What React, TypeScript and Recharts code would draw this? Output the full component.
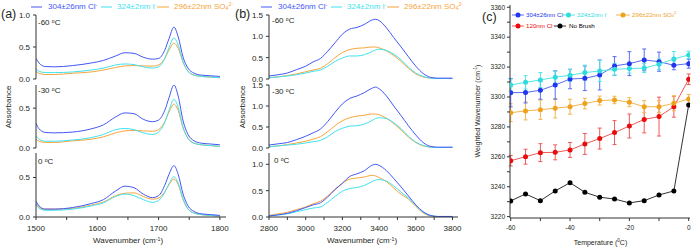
import React from 'react';
import { LineChart, Line, XAxis, YAxis, ErrorBar } from 'recharts';

const FONT = '"Liberation Sans", Arial, Helvetica, sans-serif';
const INK = '#231f20';
const AXIS = '#333333';

const COL_CL = '#4257f6';
const COL_I = '#40e2ee';
const COL_SO4 = '#f7a53c';

// ---------- Panel (a): 1500-1800 cm-1 ----------
const wavenumbersA = [1500, 1505, 1515, 1530, 1560, 1590, 1610, 1630, 1645, 1660, 1675, 1690, 1700, 1710, 1717, 1725, 1732, 1740, 1748, 1758, 1770, 1785, 1800];
const aClM60 = [0.32, 0.25, 0.195, 0.19, 0.21, 0.25, 0.29, 0.36, 0.41, 0.40, 0.34, 0.31, 0.32, 0.45, 0.63, 0.81, 0.66, 0.34, 0.17, 0.09, 0.06, 0.05, 0.04];
const aIM60 = [0.16, 0.12, 0.10, 0.10, 0.11, 0.14, 0.17, 0.22, 0.235, 0.225, 0.19, 0.17, 0.19, 0.32, 0.49, 0.64, 0.53, 0.27, 0.12, 0.06, 0.04, 0.03, 0.02];
const aSO4M60 = [0.12, 0.09, 0.07, 0.07, 0.09, 0.11, 0.14, 0.18, 0.205, 0.21, 0.205, 0.20, 0.22, 0.32, 0.45, 0.56, 0.48, 0.26, 0.12, 0.06, 0.04, 0.03, 0.02];
const aClM30 = [0.31, 0.24, 0.195, 0.19, 0.20, 0.24, 0.29, 0.39, 0.44, 0.43, 0.36, 0.33, 0.35, 0.47, 0.63, 0.79, 0.65, 0.34, 0.17, 0.09, 0.06, 0.05, 0.04];
const aIM30 = [0.15, 0.11, 0.085, 0.085, 0.10, 0.13, 0.17, 0.23, 0.245, 0.23, 0.19, 0.17, 0.20, 0.32, 0.47, 0.61, 0.51, 0.26, 0.12, 0.06, 0.04, 0.03, 0.02];
const aSO4M30 = [0.11, 0.085, 0.07, 0.07, 0.09, 0.11, 0.14, 0.19, 0.215, 0.22, 0.215, 0.21, 0.23, 0.33, 0.45, 0.55, 0.47, 0.25, 0.12, 0.06, 0.04, 0.03, 0.02];
const aCl0 = [0.20, 0.14, 0.10, 0.10, 0.12, 0.17, 0.22, 0.33, 0.39, 0.37, 0.29, 0.245, 0.27, 0.40, 0.54, 0.65, 0.54, 0.29, 0.14, 0.07, 0.04, 0.03, 0.02];
const aI0 = [0.16, 0.11, 0.085, 0.085, 0.10, 0.14, 0.18, 0.26, 0.29, 0.27, 0.22, 0.185, 0.21, 0.31, 0.42, 0.51, 0.43, 0.23, 0.10, 0.05, 0.03, 0.02, 0.01];
const aSO40 = [0.17, 0.12, 0.10, 0.10, 0.11, 0.15, 0.19, 0.27, 0.30, 0.305, 0.26, 0.225, 0.24, 0.32, 0.41, 0.48, 0.41, 0.22, 0.10, 0.05, 0.03, 0.02, 0.01];

// ---------- Panel (b): 2800-3800 cm-1 ----------
const wavenumbersB = [2800, 2850, 2900, 2950, 3000, 3040, 3080, 3120, 3160, 3200, 3240, 3280, 3320, 3360, 3380, 3400, 3440, 3480, 3520, 3560, 3600, 3640, 3680, 3720, 3800];
const bClM60 = [0.07, 0.10, 0.14, 0.22, 0.30, 0.40, 0.48, 0.65, 0.85, 1.05, 1.17, 1.21, 1.28, 1.38, 1.40, 1.37, 1.20, 0.97, 0.75, 0.52, 0.30, 0.13, 0.04, 0.02, 0.02];
const bIM60 = [0.03, 0.05, 0.07, 0.10, 0.14, 0.18, 0.21, 0.30, 0.41, 0.49, 0.54, 0.54, 0.57, 0.64, 0.68, 0.70, 0.67, 0.58, 0.45, 0.28, 0.14, 0.06, 0.02, 0.01, 0.01];
const bSO4M60 = [0.03, 0.05, 0.08, 0.12, 0.17, 0.21, 0.25, 0.36, 0.50, 0.62, 0.69, 0.72, 0.73, 0.75, 0.75, 0.73, 0.66, 0.55, 0.41, 0.25, 0.12, 0.05, 0.02, 0.01, 0.01];
const bClM30 = [0.07, 0.10, 0.13, 0.20, 0.28, 0.36, 0.45, 0.63, 0.85, 1.05, 1.18, 1.24, 1.32, 1.42, 1.45, 1.41, 1.24, 1.00, 0.77, 0.53, 0.31, 0.13, 0.04, 0.02, 0.02];
const bIM30 = [0.03, 0.05, 0.07, 0.09, 0.12, 0.15, 0.18, 0.27, 0.39, 0.47, 0.52, 0.53, 0.57, 0.65, 0.70, 0.72, 0.70, 0.60, 0.46, 0.28, 0.14, 0.06, 0.02, 0.01, 0.01];
const bSO4M30 = [0.03, 0.05, 0.08, 0.12, 0.16, 0.21, 0.27, 0.39, 0.53, 0.65, 0.72, 0.76, 0.78, 0.81, 0.81, 0.79, 0.71, 0.58, 0.43, 0.26, 0.13, 0.05, 0.02, 0.01, 0.01];
const bCl0 = [0.02, 0.04, 0.07, 0.12, 0.18, 0.23, 0.27, 0.38, 0.52, 0.64, 0.77, 0.82, 0.88, 0.98, 1.00, 0.98, 0.88, 0.73, 0.57, 0.40, 0.23, 0.10, 0.03, 0.01, 0.01];
const bI0 = [0.02, 0.04, 0.06, 0.10, 0.14, 0.17, 0.19, 0.28, 0.39, 0.49, 0.54, 0.56, 0.60, 0.67, 0.70, 0.71, 0.68, 0.59, 0.47, 0.36, 0.22, 0.09, 0.03, 0.01, 0.01];
const bSO40 = [0.03, 0.06, 0.09, 0.14, 0.19, 0.25, 0.30, 0.40, 0.53, 0.64, 0.72, 0.74, 0.76, 0.79, 0.78, 0.75, 0.67, 0.55, 0.43, 0.34, 0.20, 0.08, 0.02, 0.01, 0.01];

// ---------- Panel (c): weighted wavenumber vs temperature ----------
const temperatures = [-60, -55, -50, -45, -40, -35, -30, -25, -20, -15, -10, -5, 0];
const cl304 = [3302.9, 3303.0, 3304.5, 3308.0, 3312.0, 3312.5, 3314.7, 3320.8, 3322.3, 3324.8, 3323.6, 3321.2, 3322.3];
const cl304Err = [9.5, 7, 6, 9.5, 6.5, 8.2, 10, 6.2, 8, 7.3, 6.4, 3, 3];
const i324 = [3308.0, 3309.8, 3311.4, 3313.2, 3314.5, 3316.3, 3317.4, 3318.5, 3319.0, 3319.3, 3321.9, 3325.4, 3328.1];
const i324Err = [4, 4.5, 5, 4, 4, 5, 7, 4, 3, 3, 3.5, 5, 2.5];
const so4296 = [3289.5, 3290.7, 3291.5, 3292.5, 3293.5, 3295.6, 3297.6, 3298.0, 3296.5, 3293.5, 3293.5, 3295.8, 3298.7];
const so4296Err = [6, 6, 6.5, 6.5, 5, 3.5, 3, 2.5, 3, 4, 4, 5, 3];
const cl120 = [3257.4, 3260.1, 3262.8, 3263.0, 3264.6, 3268.6, 3272.2, 3276.2, 3280.6, 3285.0, 3286.9, 3293.5, 3311.9];
const cl120Err = [3.5, 5, 6, 5, 5, 7, 7, 8, 8, 9, 13, 7, 3.5];
const noBrush = [3230.5, 3235.2, 3230.7, 3237.2, 3242.7, 3236.3, 3233.0, 3231.8, 3229.2, 3230.7, 3234.5, 3237.2, 3294.7];

// ---------- ticks ----------
const ticksA = [1500, 1550, 1600, 1650, 1700, 1750, 1800];
const ticksB = [2800, 2900, 3000, 3100, 3200, 3300, 3400, 3500, 3600, 3700, 3800];
const ticksCX = [-60, -50, -40, -30, -20, -10, 0];
const ticksCY = [3220, 3230, 3240, 3250, 3260, 3270, 3280, 3290, 3300, 3310, 3320, 3330, 3340, 3350, 3360];

const rows = (xs: number[], cl: number[], io: number[], so: number[]) =>
  xs.map((x, i) => ({ x, cl: cl[i], io: io[i], so: so[i] }));

const panelCData = temperatures.map((t, i) => ({
  t,
  cl304: cl304[i], cl304Err: cl304Err[i],
  i324: i324[i], i324Err: i324Err[i],
  so4296: so4296[i], so4296Err: so4296Err[i],
  cl120: cl120[i], cl120Err: cl120Err[i],
  noBrush: noBrush[i],
}));

type SubProps = {
  left: number; right: number; top: number; bottom: number;
  data: any[]; xDomain: number[]; xTicks: number[]; xStep: number;
  yDomain: number[]; yTicks: number[]; showX: boolean;
};

function Sub({ left, right, top, bottom, data, xDomain, xTicks, xStep, yDomain, yTicks, showX }: SubProps) {
  const padL = 36, padR = 6, padT = 6, padB = showX ? 0 : 4, xh = showX ? 22 : 0;
  const W = right - left + padL + padR;
  const H = bottom - top + padT + padB + xh;
  return (
    <div style={{ position: 'absolute', left: left - padL, top: top - padT }}>
      <LineChart width={W} height={H} data={data} margin={{ top: padT, right: padR, bottom: padB, left: 0 }}>
        <XAxis type="number" dataKey="x" domain={xDomain} allowDataOverflow ticks={xTicks} interval={0}
          tickFormatter={(v: number) => (v % xStep === 0 ? String(v) : '')}
          hide={!showX} height={xh} tickSize={3} tickMargin={5} stroke={AXIS}
          tick={{ fontSize: 8, fill: INK }} />
        <YAxis yAxisId="l" width={padL} domain={yDomain} allowDataOverflow ticks={yTicks} interval={0}
          tickFormatter={(v: number) => v.toFixed(1)} tickSize={3} tickMargin={3} stroke={AXIS}
          tick={{ fontSize: 8, fill: INK }} />
        <YAxis yAxisId="r" orientation="right" width={0} mirror domain={yDomain} allowDataOverflow
          ticks={yTicks} interval={0} tick={false} tickSize={3} stroke={AXIS} />
        <Line yAxisId="l" type="monotone" dataKey="so" stroke={COL_SO4} strokeWidth={1} dot={false} isAnimationActive={false} />
        <Line yAxisId="l" type="monotone" dataKey="io" stroke={COL_I} strokeWidth={1} dot={false} isAnimationActive={false} />
        <Line yAxisId="l" type="monotone" dataKey="cl" stroke={COL_CL} strokeWidth={1} dot={false} isAnimationActive={false} />
      </LineChart>
    </div>
  );
}

function T({ x, y, size = 8, color = INK, anchor = 'start', rotate = false, children }: any) {
  const tx = anchor === 'middle' ? '-50%' : anchor === 'end' ? '-100%' : '0';
  return (
    <div style={{
      position: 'absolute', left: x, top: y, fontSize: size, color, lineHeight: 1, whiteSpace: 'nowrap',
      transform: rotate ? 'translate(-50%,-50%) rotate(-90deg)' : `translate(${tx},-50%)`,
    }}>{children}</div>
  );
}

function Mark({ x, y, len, color, dot }: any) {
  return (
    <svg style={{ position: 'absolute', left: x, top: y - 4 }} width={len} height={8}>
      <line x1={0} y1={4} x2={len} y2={4} stroke={color} strokeWidth={1} />
      {dot ? <circle cx={len / 2} cy={4} r={2.5} fill={dot} /> : null}
    </svg>
  );
}

const sup = (s: string) => <sup style={{ fontSize: '0.65em', verticalAlign: '0.55em' }}>{s}</sup>;
const sub = (s: string) => <sub style={{ fontSize: '0.65em', verticalAlign: '-0.2em' }}>{s}</sub>;

function SpecLegend({ dx }: { dx: number }) {
  return (
    <>
      <Mark x={31 + dx} y={6.5} len={11} color={COL_CL} />
      <T x={48 + dx} y={6.5} color={COL_CL}>304±26nm Cl{sup('-')}</T>
      <Mark x={101 + dx} y={6.5} len={11} color={COL_I} />
      <T x={117 + dx} y={6.5} color={COL_I}>324±2nm I{sup('-')}</T>
      <Mark x={157 + dx} y={6.5} len={12} color={COL_SO4} />
      <T x={174 + dx} y={6.5} color={COL_SO4}>296±22nm SO{sub('4')}{sup('2-')}</T>
    </>
  );
}

const CB = '#2236ee', CBL = '#5a6cf4';
const CC = '#2fdcdc', CCL = '#4fe6e6';
const CO = '#eea21c', COL = '#f4b54c';
const CR = '#e80c0c', CRL = '#f05a5a';

export default function App() {
  const dA = [rows(wavenumbersA, aClM60, aIM60, aSO4M60), rows(wavenumbersA, aClM30, aIM30, aSO4M30), rows(wavenumbersA, aCl0, aI0, aSO40)];
  const dB = [rows(wavenumbersB, bClM60, bIM60, bSO4M60), rows(wavenumbersB, bClM30, bIM30, bSO4M30), rows(wavenumbersB, bCl0, bI0, bSO40)];
  const xA = [1500, 1810];
  const xB = [2800, 3830];
  return (
    <div style={{ position: 'absolute', left: 0, top: 0, width: 696, height: 247, background: '#fff', fontFamily: FONT, color: INK, overflow: 'hidden' }}>
      {/* Panel (a) */}
      <Sub left={36} right={226} top={15} bottom={79} data={dA[0]} xDomain={xA} xTicks={ticksA} xStep={100} yDomain={[0, 1.0]} yTicks={[0, 0.5, 1.0]} showX={false} />
      <Sub left={36} right={226} top={85} bottom={148} data={dA[1]} xDomain={xA} xTicks={ticksA} xStep={100} yDomain={[0, 0.79]} yTicks={[0, 0.5]} showX={false} />
      <Sub left={36} right={226} top={153} bottom={217} data={dA[2]} xDomain={xA} xTicks={ticksA} xStep={100} yDomain={[0, 0.81]} yTicks={[0, 0.5]} showX={true} />
      {/* Panel (b) */}
      <Sub left={269} right={458} top={15} bottom={79} data={dB[0]} xDomain={xB} xTicks={ticksB} xStep={200} yDomain={[0, 1.5]} yTicks={[0, 0.5, 1.0, 1.5]} showX={false} />
      <Sub left={269} right={458} top={85} bottom={148} data={dB[1]} xDomain={xB} xTicks={ticksB} xStep={200} yDomain={[0, 1.5]} yTicks={[0, 0.5, 1.0, 1.5]} showX={false} />
      <Sub left={269} right={458} top={153} bottom={217} data={dB[2]} xDomain={xB} xTicks={ticksB} xStep={200} yDomain={[0, 1.215]} yTicks={[0, 0.5, 1.0]} showX={true} />

      {/* Panel (c) */}
      <div style={{ position: 'absolute', left: 470, top: 0 }}>
        <LineChart width={226} height={242} data={panelCData} margin={{ top: 5, right: 6, bottom: 0, left: 0 }}>
          <XAxis xAxisId="b" type="number" dataKey="t" domain={[-60.24, 0.44]} allowDataOverflow ticks={ticksCX} interval={0}
            tickFormatter={(v: number) => (v % 20 === 0 ? String(v) : '')} height={24} tickSize={3} tickMargin={4}
            stroke={AXIS} tick={{ fontSize: 6.5, fill: INK }} />
          <XAxis xAxisId="t" orientation="top" type="number" dataKey="t" domain={[-60.24, 0.44]} allowDataOverflow
            ticks={[-60, -40, -20, 0]} interval={0} height={0} mirror tick={false} tickSize={3} stroke={AXIS} />
          <YAxis yAxisId="l" width={40} domain={[3219.1, 3361.5]} allowDataOverflow ticks={ticksCY} interval={0}
            tickFormatter={(v: number) => (v % 20 === 0 ? String(v) : '')} tickSize={3} tickMargin={2}
            stroke={AXIS} tick={{ fontSize: 6.5, fill: INK }} />
          <YAxis yAxisId="r" orientation="right" width={0} mirror domain={[3219.1, 3361.5]} allowDataOverflow
            ticks={ticksCY} interval={0} tick={false} tickSize={3} stroke={AXIS} />
          <Line xAxisId="b" yAxisId="l" type="linear" dataKey="noBrush" stroke="#333" strokeWidth={1}
            dot={{ r: 2.5, fill: '#000', stroke: '#000', strokeWidth: 0 }} activeDot={false} isAnimationActive={false} />
          <Line xAxisId="b" yAxisId="l" type="linear" dataKey="cl120" stroke={CRL} strokeWidth={1}
            dot={{ r: 2.5, fill: CR, stroke: CR, strokeWidth: 0 }} activeDot={false} isAnimationActive={false}>
            <ErrorBar dataKey="cl120Err" width={2} stroke={CRL} strokeWidth={1} direction="y" />
          </Line>
          <Line xAxisId="b" yAxisId="l" type="linear" dataKey="so4296" stroke={COL} strokeWidth={1}
            dot={{ r: 2.5, fill: CO, stroke: CO, strokeWidth: 0 }} activeDot={false} isAnimationActive={false}>
            <ErrorBar dataKey="so4296Err" width={2} stroke={COL} strokeWidth={1} direction="y" />
          </Line>
          <Line xAxisId="b" yAxisId="l" type="linear" dataKey="cl304" stroke={CBL} strokeWidth={1}
            dot={{ r: 2.5, fill: CB, stroke: CB, strokeWidth: 0 }} activeDot={false} isAnimationActive={false}>
            <ErrorBar dataKey="cl304Err" width={2} stroke={CBL} strokeWidth={1} direction="y" />
          </Line>
          <Line xAxisId="b" yAxisId="l" type="linear" dataKey="i324" stroke={CCL} strokeWidth={1}
            dot={{ r: 2.5, fill: CC, stroke: CC, strokeWidth: 0 }} activeDot={false} isAnimationActive={false}>
            <ErrorBar dataKey="i324Err" width={2} stroke={CCL} strokeWidth={1} direction="y" />
          </Line>
        </LineChart>
      </div>

      {/* Legends */}
      <SpecLegend dx={0} />
      <SpecLegend dx={230} />

      <Mark x={511.5} y={15} len={12} color={CBL} dot={CB} />
      <T x={526} y={15} size={6.2} color={CB}>304±26nm Cl{sup('-')}</T>
      <Mark x={562} y={15} len={13} color={CCL} dot={CC} />
      <T x={577} y={15} size={6.2} color={CC}>324±2nm I{sup('-')}</T>
      <Mark x={616} y={15} len={14} color={COL} dot={CO} />
      <T x={632} y={15} size={6.2} color={CO}>296±22nm SO{sub('4')}{sup('2-')}</T>
      <Mark x={511.5} y={25.5} len={12} color={CRL} dot={CR} />
      <T x={526} y={25.5} size={6.2} color={CR}>120nm Cl{sup('-')}</T>
      <Mark x={554} y={25.5} len={12} color="#333" dot="#000" />
      <T x={569} y={25.5} size={6.2} color="#000">No Brush</T>

      {/* Panel letters */}
      <T x={1} y={14} size={12.5}>(a)</T>
      <T x={235} y={14} size={12.5}>(b)</T>
      <T x={482} y={17} size={12.5}>(c)</T>

      {/* Temperature tags */}
      <T x={38} y={23}>-60 {sup('o')}C</T>
      <T x={38} y={91}>-30 {sup('o')}C</T>
      <T x={38} y={162}>0 {sup('o')}C</T>
      <T x={272} y={20.5}>-60 {sup('o')}C</T>
      <T x={272} y={92}>-30 {sup('o')}C</T>
      <T x={274} y={161}>0 {sup('o')}C</T>

      {/* Axis titles */}
      <T x={9} y={107} rotate>Absorbance</T>
      <T x={242.5} y={107} rotate>Absorbance</T>
      <T x={128} y={240.5} anchor="middle">Wavenumber (cm{sup('-1')})</T>
      <T x={362} y={240.5} anchor="middle">Wavenumber (cm{sup('-1')})</T>
      <T x={476.5} y={111} size={7} rotate>Weighted Wavenumber (cm{sup('-1')})</T>
      <T x={600.5} y={241.5} size={7} anchor="middle">Temperature ({sup('0')}C)</T>
    </div>
  );
}
